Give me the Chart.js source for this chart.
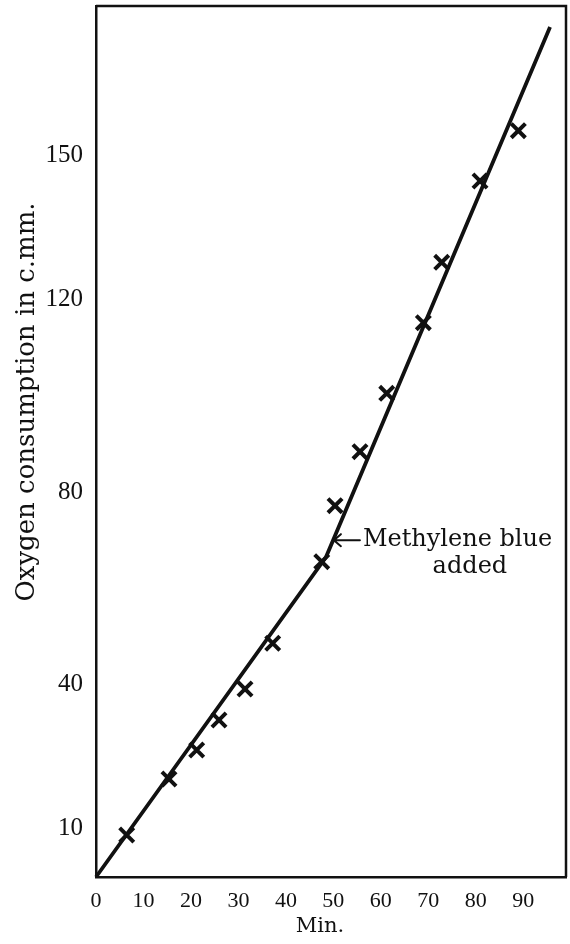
<!DOCTYPE html>
<html><head><meta charset="utf-8">
<script src="https://cdn.jsdelivr.net/npm/chart.js@4"></script>
<style>html,body{margin:0;padding:0;background:#fff}#wrap{width:570px;height:944px}</style>
</head><body><div id="wrap"><canvas id="c" width="570" height="944"></canvas></div>
<script>
// Observed points (minutes, oxygen consumption c.mm.)
const minutes = [6.47,15.38,21.21,25.91,31.39,37.22,47.55,50.35,55.61,61.24,68.95,72.82,80.89,88.96];
const oxygen  = [8.73,20.37,26.39,32.63,39.07,48.57,65.52,77.16,88.38,100.52,115.19,127.74,144.64,155.09];
// Fitted line (two straight segments)
const fitMinutes = [0,48.45,95.64];
const fitOxygen  = [0,66.5,176.64];
// Tick values
const xTicks = [0,10,20,30,40,50,60,70,80,90];
const yTicks = [10,40,80,120,150];
// Annotation
const arrowMinute = 49.9;
const arrowOxygen = 70.0;
const noteLines = ['Methylene blue','added'];
const xTitle = 'Min.';
const yTitle = 'Oxygen consumption in c.mm.';

const INK = '#111';

const scatterData = minutes.map((m,i)=>({x:m,y:oxygen[i]}));
const fitData = fitMinutes.map((m,i)=>({x:m,y:fitOxygen[i]}));

const framePlugin = {
  id:'frame',
  afterDatasetsDraw(chart){
    const {ctx, chartArea:a, scales} = chart;
    ctx.save();
    ctx.strokeStyle = INK; ctx.lineWidth = 2.5;
    ctx.beginPath();
    ctx.moveTo(a.left, a.top); ctx.lineTo(a.right, a.top); ctx.lineTo(a.right, a.bottom);
    ctx.stroke();
    // annotation arrow + text
    const tx = scales.x.getPixelForValue(arrowMinute);
    const ty = scales.y.getPixelForValue(arrowOxygen);
    ctx.lineWidth = 2; ctx.lineCap='round';
    ctx.beginPath();
    ctx.moveTo(tx+1, ty); ctx.lineTo(tx+27, ty);
    ctx.moveTo(tx+8, ty-6); ctx.lineTo(tx+1, ty); ctx.lineTo(tx+8, ty+6);
    ctx.stroke();
    ctx.fillStyle = INK;
    ctx.font = '24px "DejaVu Serif"';
    ctx.textBaseline = 'alphabetic';
    ctx.textAlign = 'left';
    ctx.fillText(noteLines[0], tx+30, ty+6);
    ctx.textAlign = 'center';
    ctx.fillText(noteLines[1], tx+137, ty+33);
    // axis titles
    ctx.textBaseline = 'middle';
    ctx.font = '21px "DejaVu Serif"';
    ctx.fillText(xTitle, 320, 927);
    ctx.translate(27, 402);
    ctx.rotate(-Math.PI/2);
    ctx.font = '26px "DejaVu Serif"';
    ctx.fillText(yTitle, 0, 0);
    ctx.restore();
  }
};

new Chart(document.getElementById('c'), {
  type:'scatter',
  data:{datasets:[
    {type:'line', data:fitData, borderColor:INK, borderWidth:3.8, pointRadius:0, tension:0, fill:false, clip:false},
    {data:scatterData, pointStyle:'crossRot', pointRadius:10, pointBorderWidth:4, borderColor:INK, backgroundColor:INK, clip:false}
  ]},
  options:{
    responsive:false, animation:false, devicePixelRatio:1,
    layout:{autoPadding:false, padding:{top:6,right:4,left:0,bottom:0}},
    plugins:{legend:{display:false}, tooltip:{enabled:false}},
    scales:{
      x:{type:'linear', min:0, max:99,
        afterBuildTicks:s=>{s.ticks = xTicks.map(v=>({value:v}));},
        afterFit:s=>{s.height = 67; s.paddingLeft = 0; s.paddingRight = 0;},
        grid:{display:false, drawTicks:false},
        border:{display:true, color:INK, width:2.5},
        ticks:{color:INK, font:{family:'Liberation Serif', size:22}, padding:11, maxRotation:0, autoSkip:false}
      },
      y:{type:'linear', min:0, max:181,
        afterBuildTicks:s=>{s.ticks = yTicks.map(v=>({value:v}));},
        afterFit:s=>{s.width = 96; s.paddingTop = 0; s.paddingBottom = 0;},
        grid:{display:false, drawTicks:false},
        border:{display:true, color:INK, width:2.5},
        ticks:{color:INK, font:{family:'Liberation Serif', size:25}, padding:13, autoSkip:false}
      }
    }
  },
  plugins:[framePlugin]
});
</script></body></html>
